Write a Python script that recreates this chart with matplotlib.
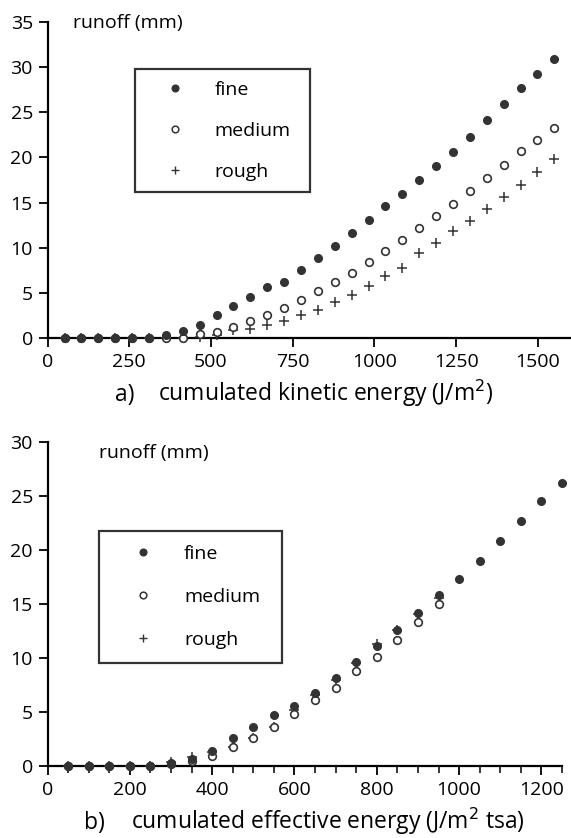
import matplotlib
matplotlib.use("Agg")
import matplotlib.pyplot as plt
from matplotlib.lines import Line2D
from matplotlib.ticker import MultipleLocator

plt.rcParams["font.family"] = ["Open Sans", "DejaVu Sans"]

# panel a: cumulated kinetic energy (J/m2)
ke = [52, 103, 155, 207, 258, 310, 362, 413, 465, 517, 568, 620, 672, 723, 775,
      827, 878, 930, 982, 1033, 1085, 1137, 1188, 1240, 1292, 1343, 1395, 1447, 1498, 1550]
a_fine = [0, 0, 0, 0, 0, 0, 0.3, 0.75, 1.4, 2.5, 3.5, 4.5, 5.6, 6.25, 7.5,
          8.9, 10.2, 11.6, 13.1, 14.6, 16.0, 17.55, 19.1, 20.6, 22.3, 24.1, 25.9, 27.7, 29.2, 30.9]
a_medium = [0, 0, 0, 0, 0, 0, 0, 0.05, 0.4, 0.65, 1.2, 1.85, 2.5, 3.3, 4.2,
            5.2, 6.2, 7.25, 8.4, 9.65, 10.8, 12.2, 13.5, 14.85, 16.3, 17.7, 19.2, 20.7, 21.9, 23.3]
a_rough = [0, 0, 0, 0, 0, 0, 0, 0, 0.1, 0.35, 0.85, 1.05, 1.4, 1.9, 2.5,
           3.15, 4.0, 4.8, 5.8, 6.9, 7.8, 9.4, 10.5, 11.8, 13.0, 14.25, 15.65, 17.0, 18.4, 19.8]

# panel b: cumulated effective energy (J/m2 tsa)
ee = [50, 100, 150, 200, 250, 300, 350, 400, 450, 500, 550, 600, 650, 700, 750,
      800, 850, 900, 950, 1000, 1050, 1100, 1150, 1200, 1250]
b_fine = [0, 0, 0, 0, 0, 0.3, 0.65, 1.42, 2.56, 3.65, 4.73, 5.6, 6.8, 8.15, 9.6,
          11.1, 12.63, 14.15, 15.8, 17.33, 19.0, 20.8, 22.7, 24.56, 26.2]
ee_short = [50, 100, 150, 200, 250, 300, 350, 400, 450, 500, 550, 600, 650, 700, 750,
            800, 850, 900, 950]
b_medium = [0, 0, 0, 0, 0, 0.2, 0.45, 0.95, 1.8, 2.6, 3.6, 4.8, 6.1, 7.25, 8.77,
            10.13, 11.68, 13.35, 15.0]
b_rough = [0, 0, 0, 0, 0, 0.4, 0.85, 1.3, 1.8, 2.6, 3.6, 5.2, 6.6, 8.0, 9.5,
           11.3, 12.6, 14.1, 15.6]

dark = "#333333"
W, H = 571, 838


def draw(ax, x_f, f, x_m, m, x_r, r):
    ax.plot(x_r, r, "+", color=dark, ms=6.5, mew=1.1, clip_on=False, zorder=3)
    ax.plot(x_m, m, "o", mfc="white", mec=dark, ms=5.5, mew=1.2, clip_on=False, zorder=4)
    ax.plot(x_f, f, "o", color=dark, ms=5.5, clip_on=False, zorder=5)
    for s in ["top", "right"]:
        ax.spines[s].set_visible(False)
    for s in ["left", "bottom"]:
        ax.spines[s].set_linewidth(1.6)
    ax.tick_params(labelsize=14, width=1.3, length=6.5, direction="out", pad=4)
    ax.tick_params(which="minor", width=1.1, length=5, direction="out")


def add_legend(ax, x0, ytop, w, spacing, pad, hl, htp):
    handles = [
        Line2D([], [], ls="none", marker="o", color=dark, ms=4.8),
        Line2D([], [], ls="none", marker="o", mfc="white", mec=dark, ms=4.8, mew=1.1),
        Line2D([], [], ls="none", marker="+", color=dark, ms=6, mew=1.0),
    ]
    leg = ax.legend(handles, ["fine", "medium", "rough"], loc="upper left",
                    bbox_to_anchor=(x0, ytop - 0.1, w, 0.1), mode="expand",
                    frameon=True, fancybox=False, edgecolor="black",
                    fontsize=14, labelspacing=spacing, handletextpad=htp,
                    borderpad=pad, borderaxespad=0, handlelength=hl)
    leg.get_frame().set_linewidth(1.6)


fig = plt.figure(figsize=(W / 100, H / 100), dpi=100)

# panel a
ax1 = fig.add_axes([47.5 / W, 1 - 338 / H, 522.5 / W, 316 / H])
draw(ax1, ke, a_fine, ke, a_medium, ke, a_rough)
ax1.set_xlim(0, 1598)
ax1.set_ylim(0, 35)
ax1.set_xticks([0, 250, 500, 750, 1000, 1250, 1500])
ax1.set_yticks([0, 5, 10, 15, 20, 25, 30, 35])
ax1.text(0.049, 0.997, "runoff (mm)", transform=ax1.transAxes, fontsize=14,
         va="center", ha="left")
add_legend(ax1, 0.1675, 0.851, 0.335, 1.18, 0.6, 2.9, 0.6)
fig.text(115 / W, 1 - 401 / H, "a)", fontsize=16.5, ha="left", va="baseline")
fig.text(326 / W, 1 - 401 / H, "cumulated kinetic energy (J/m$^2$)",
         fontsize=16.5, ha="center", va="baseline")

# panel b
ax2 = fig.add_axes([47.5 / W, 1 - 766 / H, 514.5 / W, 324 / H])
draw(ax2, ee, b_fine, ee_short, b_medium, ee_short, b_rough)
ax2.set_xlim(0, 1250)
ax2.set_ylim(0, 30)
ax2.set_xticks([0, 200, 400, 600, 800, 1000, 1200])
ax2.xaxis.set_minor_locator(MultipleLocator(50))
ax2.set_yticks([0, 5, 10, 15, 20, 25, 30])
ax2.text(0.1, 0.966, "runoff (mm)", transform=ax2.transAxes, fontsize=14,
         va="center", ha="left")
add_legend(ax2, 0.1, 0.725, 0.356, 1.29, 0.71, 3.1, 0.56)
fig.text(84 / W, 1 - 829 / H, "b)", fontsize=16.5, ha="left", va="baseline")
fig.text(328 / W, 1 - 829 / H, "cumulated effective energy (J/m$^2$ tsa)",
         fontsize=16.5, ha="center", va="baseline")

fig.savefig("out.png", dpi=100)
